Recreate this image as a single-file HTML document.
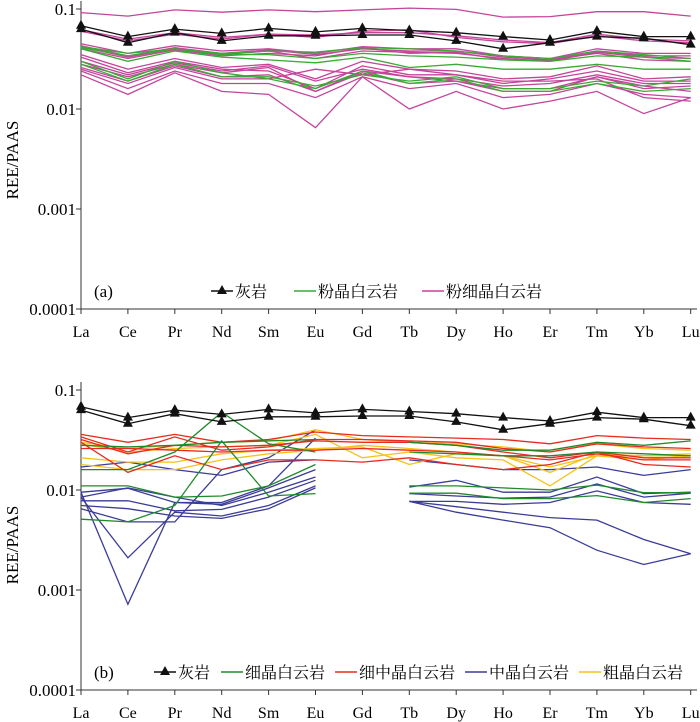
<!DOCTYPE html>
<html><head><meta charset="utf-8"><style>
body{margin:0;background:#fff;}
svg{display:block;font-family:"Liberation Serif","Noto Serif CJK SC","Noto Sans CJK SC",serif;}
</style></head><body>
<svg id="chart" width="700" height="722" viewBox="0 0 700 722" xmlns="http://www.w3.org/2000/svg"></svg>
<script>
const categories=["La","Ce","Pr","Nd","Sm","Eu","Gd","Tb","Dy","Ho","Er","Tm","Yb","Lu"];
const yTicks=[0.1,0.01,0.001,0.0001];
const yTickLabels=["0.1","0.01","0.001","0.0001"];
const limestone=[
[0.068,0.053,0.063,0.057,0.064,0.059,0.064,0.061,0.058,0.053,0.049,0.060,0.053,0.053],
[0.063,0.046,0.058,0.048,0.054,0.054,0.055,0.055,0.048,0.040,0.046,0.053,0.051,0.044]];
const aPink=[
[0.092,0.085,0.098,0.093,0.098,0.094,0.098,0.102,0.099,0.083,0.084,0.094,0.094,0.085],
[0.062,0.050,0.058,0.052,0.056,0.055,0.058,0.058,0.054,0.049,0.046,0.056,0.050,0.048],
[0.060,0.048,0.056,0.050,0.056,0.052,0.060,0.062,0.052,0.047,0.045,0.054,0.048,0.046],
[0.045,0.036,0.043,0.038,0.040,0.036,0.042,0.040,0.040,0.034,0.032,0.040,0.036,0.036],
[0.043,0.034,0.041,0.036,0.039,0.035,0.040,0.038,0.038,0.033,0.031,0.038,0.034,0.034],
[0.042,0.033,0.040,0.035,0.038,0.032,0.038,0.037,0.036,0.032,0.030,0.037,0.033,0.032],
[0.040,0.032,0.039,0.034,0.036,0.034,0.041,0.036,0.037,0.031,0.031,0.036,0.031,0.030],
[0.035,0.025,0.032,0.026,0.028,0.020,0.030,0.025,0.024,0.020,0.021,0.027,0.020,0.021],
[0.033,0.023,0.030,0.025,0.024,0.016,0.027,0.022,0.022,0.018,0.020,0.024,0.019,0.019],
[0.030,0.022,0.029,0.024,0.027,0.019,0.025,0.021,0.020,0.017,0.018,0.022,0.018,0.018],
[0.028,0.021,0.028,0.023,0.026,0.015,0.024,0.021,0.019,0.016,0.016,0.021,0.017,0.015],
[0.026,0.019,0.027,0.021,0.022,0.015,0.023,0.018,0.019,0.015,0.015,0.021,0.016,0.017],
[0.024,0.016,0.024,0.018,0.018,0.013,0.021,0.016,0.018,0.013,0.014,0.018,0.014,0.013],
[0.022,0.014,0.023,0.015,0.014,0.0065,0.021,0.010,0.015,0.010,0.012,0.015,0.009,0.013],
[0.025,0.018,0.026,0.020,0.020,0.025,0.022,0.025,0.022,0.019,0.019,0.020,0.013,0.012]];
const aGreen=[
[0.042,0.036,0.040,0.036,0.038,0.037,0.041,0.040,0.038,0.034,0.032,0.038,0.035,0.032],
[0.041,0.034,0.040,0.035,0.035,0.032,0.036,0.034,0.033,0.031,0.030,0.034,0.033,0.030],
[0.040,0.030,0.038,0.033,0.031,0.029,0.033,0.026,0.028,0.025,0.025,0.028,0.025,0.025],
[0.030,0.020,0.030,0.023,0.020,0.016,0.024,0.018,0.020,0.015,0.015,0.018,0.015,0.016],
[0.028,0.019,0.028,0.021,0.021,0.017,0.022,0.019,0.021,0.016,0.016,0.019,0.017,0.020]];
const bGreen=[
[0.028,0.027,0.028,0.030,0.031,0.032,null,0.030,0.028,0.025,0.025,0.030,0.028,0.031],
[0.016,0.016,0.024,0.060,0.029,0.024,null,0.011,0.011,0.0105,0.010,0.0112,0.0094,0.0094],
[0.011,0.011,0.0085,0.0087,0.011,0.018,null,0.0093,0.0093,0.0082,0.0082,0.0088,0.0075,0.0082],
[0.0051,0.0048,0.007,0.031,0.0087,0.0092,null,0.024,0.023,0.022,0.022,0.024,0.023,0.022]];
const bRed=[
[0.036,0.030,0.036,0.030,0.032,0.038,0.035,0.034,0.033,0.032,0.029,0.035,0.033,0.032],
[0.034,0.024,0.034,0.025,0.027,0.032,0.032,0.031,0.030,0.026,0.024,0.029,0.027,0.026],
[0.032,0.023,0.028,0.027,0.028,0.031,0.030,0.030,0.028,0.024,0.021,0.024,0.021,0.021],
[0.030,0.015,0.022,0.016,0.020,0.020,0.019,0.021,0.018,0.016,0.018,0.024,0.018,0.017],
[0.026,0.026,0.025,0.024,0.025,0.025,0.026,0.025,0.024,0.022,0.020,0.023,0.020,0.020]];
const bBlue=[
[0.017,0.019,0.016,0.014,0.019,0.020,null,0.020,0.018,0.016,0.016,0.017,0.014,0.016],
[0.0095,0.0104,0.0075,0.0072,0.0105,0.016,null,0.0107,0.0125,0.0095,0.0095,0.0135,0.0092,0.0095],
[0.0085,0.0105,0.0085,0.007,0.0095,0.0135,null,0.0092,0.0087,0.0083,0.0085,0.0115,0.0085,0.0093],
[0.0078,0.0078,0.0062,0.0064,0.0085,0.0125,null,0.0077,0.0077,0.0072,0.0075,0.0098,0.0075,0.0072],
[0.0065,0.0048,0.0048,0.016,0.021,0.040,null,0.0077,0.0060,0.0050,0.0042,0.0025,0.0018,0.0023],
[0.0095,0.00072,0.0075,0.0075,0.011,0.033,null,0.0077,0.0068,0.0060,0.0053,0.0050,0.0032,0.0023],
[0.0085,0.0021,0.0060,0.0055,0.0070,0.011,null,null,null,null,null,null,null,null],
[0.0070,0.0065,0.0055,0.0052,0.0065,0.0105,null,null,null,null,null,null,null,null]];
const bYellow=[
[0.030,0.026,0.028,0.030,0.031,0.040,0.032,0.030,0.029,0.027,0.024,0.029,0.026,0.025],
[0.029,0.024,0.026,0.027,0.028,0.036,0.021,0.024,0.021,0.020,0.011,0.022,0.022,0.022],
[0.021,0.019,0.019,0.023,0.025,0.026,0.027,0.018,0.023,0.022,0.015,0.023,0.022,0.023],
[0.018,0.016,0.016,0.020,0.023,0.025,0.028,0.026,0.024,0.022,0.017,0.022,0.020,0.022]];

const svg=document.getElementById('chart');
const NS='http://www.w3.org/2000/svg';
function mk(tag,attrs,parent){const e=document.createElementNS(NS,tag);for(const k in attrs)e.setAttribute(k,attrs[k]);(parent||svg).appendChild(e);return e;}
const x0=81,dx=46.9,xRight=697;
function xS(i){return x0+i*dx;}
function yScaleFor(top){return v=>top+(-1-Math.log10(v))*100;}

function panel(name,top,groups,legend,tag,yTitleY){
  const g=mk('g',{});
  
  
  const yS=yScaleFor(top);const bottom=top+300;
  const ax=mk('line',{x1:x0,y1:top-8,x2:x0,y2:bottom,stroke:'#333','stroke-width':1},g);
  
  const bx=mk('line',{x1:x0,y1:bottom,x2:xRight,y2:bottom,stroke:'#333','stroke-width':1},g);
  
  yTicks.forEach((v,i)=>{const y=yS(v);
    mk('line',{x1:x0-5,y1:y,x2:x0,y2:y,stroke:'#333'},g);
    const t=mk('text',{x:x0-5,y:y+6,'text-anchor':'end','font-size':17},g);t.textContent=yTickLabels[i];
    });
  categories.forEach((c,i)=>{const x=xS(i);
    mk('line',{x1:x,y1:bottom,x2:x,y2:bottom+5,stroke:'#333'},g);
    const t=mk('text',{x:x,y:bottom+28,'text-anchor':'middle','font-size':16},g);t.textContent=c;
    });
  const yt=mk('text',{x:0,y:0,'text-anchor':'middle','font-size':17,transform:`translate(18,${yTitleY}) rotate(-90)`},g);
  yt.textContent='REE/PAAS';
  groups.forEach(gr=>{gr.data.forEach((s,si)=>{
    let d='',pen=false;
    s.forEach((v,i)=>{if(v==null){pen=false;return;}d+=(pen?'L':'M')+xS(i).toFixed(1)+' '+yS(v).toFixed(1);pen=true;});
    const p=mk('path',{d:d,fill:'none',stroke:gr.color,'stroke-width':gr.w||1.3},g);
    
    if(gr.marker){s.forEach((v,i)=>{if(v==null)return;const x=xS(i),y=yS(v);
      const m=mk('path',{d:`M${x} ${y-6}L${x+5} ${y+3}L${x-5} ${y+3}Z`,fill:'#111'},g);
      });}
  });});
  const lt=mk('text',{x:94,y:bottom-12,'font-size':17},g);lt.textContent=tag;
  
  legend.forEach(L=>{const ly=bottom-18;
    const lg=mk('g',{},g);
    mk('line',{x1:L.x,y1:ly,x2:L.x+22,y2:ly,stroke:L.color,'stroke-width':1.5},lg);
    if(L.marker)mk('path',{d:`M${L.x+11} ${ly-6}L${L.x+16} ${ly+3}L${L.x+6} ${ly+3}Z`,fill:'#111'},lg);
    const t=mk('text',{x:L.x+24,y:ly+6,'font-size':16},lg);t.textContent=L.label;});
}
panel('a',9,[
 {key:'pink',color:'#c4449c',data:aPink},
 {key:'green',color:'#3aaa35',data:aGreen},
 {key:'limestone',color:'#111',data:limestone,marker:true}],
 [{x:211,color:'#111',marker:true,label:'灰岩'},{x:294,color:'#3aaa35',label:'粉晶白云岩'},{x:422,color:'#c4449c',label:'粉细晶白云岩'}],'(a)',160);
panel('b',390,[
 {key:'blue',color:'#3b3b98',data:bBlue},
 {key:'yellow',color:'#f7c119',data:bYellow},
 {key:'red',color:'#e82a20',data:bRed},
 {key:'green',color:'#1f8a2a',data:bGreen},
 {key:'limestone',color:'#111',data:limestone,marker:true}],
 [{x:154,color:'#111',marker:true,label:'灰岩'},{x:221,color:'#1f8a2a',label:'细晶白云岩'},{x:335,color:'#e82a20',label:'细中晶白云岩'},{x:465,color:'#3b3b98',label:'中晶白云岩'},{x:579,color:'#f7c119',label:'粗晶白云岩'}],'(b)',545);
</script>
</body></html>
